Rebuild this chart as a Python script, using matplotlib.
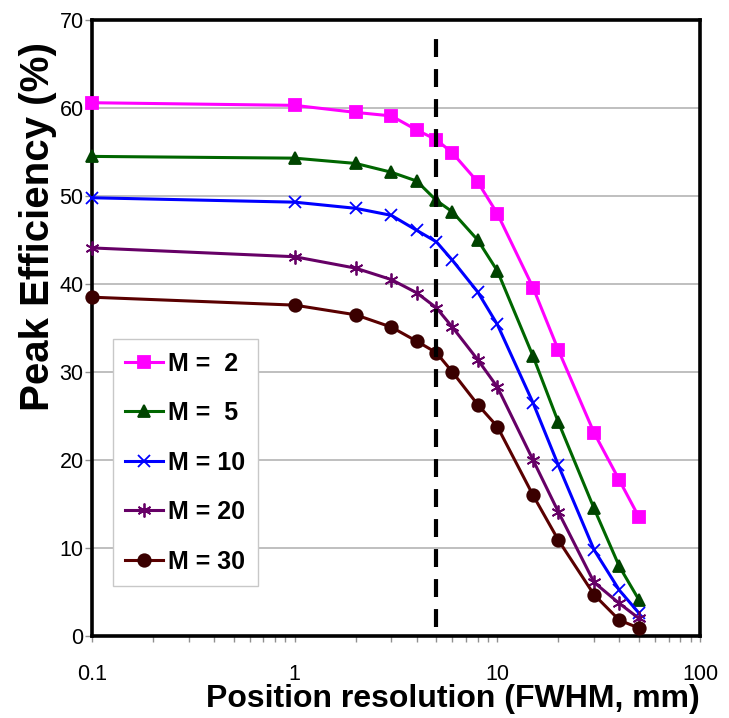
import numpy as np
import matplotlib
matplotlib.use("Agg")
from matplotlib import pyplot as plt
from matplotlib.ticker import FixedLocator, FixedFormatter, LogLocator, NullFormatter


resolution = [0.1, 1, 2, 3, 4, 5, 6, 8, 10, 15, 20, 30, 40, 50]

eff_m2 = [60.6, 60.3, 59.5, 59.1, 57.5, 56.4, 54.9, 51.6, 48.0, 39.6, 32.5, 23.1, 17.7, 13.5]
eff_m5 = [54.5, 54.3, 53.7, 52.7, 51.7, 49.5, 48.2, 45.0, 41.5, 31.8, 24.3, 14.5, 7.9, 4.1]
eff_m10 = [49.8, 49.3, 48.6, 47.8, 46.1, 44.8, 42.7, 39.1, 35.4, 26.5, 19.4, 9.8, 5.2, 2.6]
eff_m20 = [44.1, 43.1, 41.8, 40.5, 39.0, 37.3, 35.1, 31.4, 28.3, 20.0, 14.1, 6.1, 3.7, 2.0]
eff_m30 = [38.5, 37.6, 36.5, 35.1, 33.5, 32.2, 30.0, 26.3, 23.8, 16.0, 10.9, 4.7, 1.8, 0.9]

labels = ["M =  2", "M =  5", "M = 10", "M = 20", "M = 30"]
cut_position = 5

x_ticks = [0.1, 1, 10, 100]
x_tick_labels = ["0.1", "1", "10", "100"]
y_ticks = [0, 10, 20, 30, 40, 50, 60, 70]

font = ["Liberation Sans", "DejaVu Sans"]


def main():
    fig = plt.figure(figsize=(7.29, 7.18), dpi=100)
    ax = fig.add_axes([92 / 729, 82 / 718, 608 / 729, 616 / 718])

    series = [eff_m2, eff_m5, eff_m10, eff_m20, eff_m30]
    # line colour, marker colour, marker, size
    styles = [
        ("#ff00ff", "#ff00ff", "s", 9),
        ("#006600", "#004400", "^", 9),
        ("#0000ff", "#0000ff", "x", 9),
        ("#660066", "#660066", (6, 2, 0), 10),
        ("#5a0000", "#3a0000", "o", 9),
    ]
    for ys, lab, (lc, mc, mk, ms) in zip(series, labels, styles):
        ax.plot(resolution, ys, color=lc, lw=2.2, marker=mk, ms=ms,
                markerfacecolor=mc, markeredgecolor=mc, mew=1.3, label=lab,
                clip_on=False, zorder=3)

    ax.axvline(cut_position, ymin=0.015, ymax=0.985, color="black", lw=3,
               dashes=(4.3, 2.9), zorder=4)

    ax.set_xscale("log")
    ax.set_xlim(0.1, 100)
    ax.set_ylim(0, 70)
    ax.xaxis.set_major_locator(FixedLocator(x_ticks))
    ax.xaxis.set_major_formatter(FixedFormatter(x_tick_labels))
    ax.xaxis.set_minor_locator(LogLocator(base=10, subs=np.arange(2, 10)))
    ax.xaxis.set_minor_formatter(NullFormatter())
    ax.set_yticks(y_ticks)

    ax.yaxis.grid(True, color="#b4b4b4", lw=1.2)
    ax.set_axisbelow(True)

    for s in ax.spines.values():
        s.set_linewidth(2.6)
        s.set_color("black")

    ax.tick_params(axis="x", which="major", direction="out", length=4, width=1,
                   color="#909090", pad=16)
    ax.tick_params(axis="x", which="minor", direction="out", length=4, width=1,
                   color="#909090")
    ax.tick_params(axis="y", direction="out", length=5, width=1,
                   color="#909090", pad=1)
    for t in ax.get_xticklabels() + ax.get_yticklabels():
        t.set_family(font)
        t.set_fontsize(15.5)

    ax.set_xlabel("Position resolution (FWHM, mm)", family=font,
                  fontsize=23, fontweight="bold", loc="right")
    ax.xaxis.set_label_coords(1.0, -0.078)
    ax.set_ylabel("Peak Efficiency (%)", family=font, fontsize=29,
                  fontweight="bold")
    ax.yaxis.set_label_coords(-0.058, 0.665)

    leg = ax.legend(loc="upper left", bbox_to_anchor=(0.0345, 0.482),
                    prop={"family": font, "weight": "bold", "size": 18},
                    frameon=True, fancybox=False, framealpha=1,
                    edgecolor="#c8c8c8", handlelength=1.5, handletextpad=0.2,
                    labelspacing=1.02, borderpad=0.5, borderaxespad=0)
    leg.get_frame().set_linewidth(1)

    fig.savefig("out.png", dpi=100)


if __name__ == "__main__":
    main()
